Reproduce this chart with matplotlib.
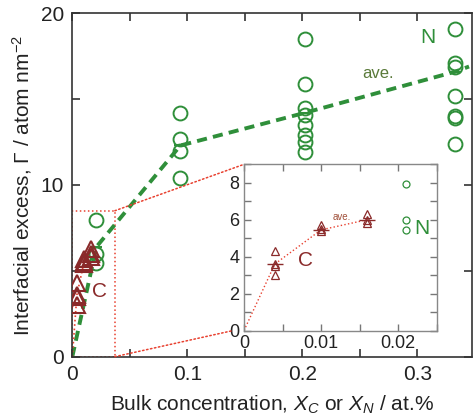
import matplotlib
matplotlib.use('Agg')
import matplotlib.pyplot as plt
from matplotlib.patches import Rectangle, ConnectionPatch
from matplotlib.ticker import MultipleLocator
import numpy as np

plt.rcParams['font.family'] = ['Liberation Sans', 'DejaVu Sans']
plt.rcParams['mathtext.fontset'] = 'custom'
plt.rcParams['mathtext.rm'] = 'Liberation Sans'
plt.rcParams['mathtext.it'] = 'Liberation Sans:italic'

# N data (circles)
n_x = [0.021, 0.021, 0.021,
       0.094, 0.094, 0.094, 0.094,
       0.202, 0.202, 0.202, 0.202, 0.202, 0.202, 0.202, 0.202,
       0.333, 0.333, 0.333, 0.333, 0.333, 0.333, 0.333]
n_y = [7.95, 6.0, 5.45,
       14.2, 12.7, 12.0, 10.4,
       18.5, 15.9, 14.5, 14.1, 13.5, 12.9, 12.5, 11.9,
       19.1, 17.1, 16.9, 15.2, 14.0, 13.9, 12.4]
n_ave_x = [0, 0.021, 0.094, 0.202, 0.333, 0.345]
n_ave_y = [0, 6.4, 12.3, 14.2, 16.6, 16.9]

# C data (triangles)
c_x = [0.004, 0.004, 0.004, 0.004, 0.010, 0.010, 0.010, 0.016, 0.016, 0.016]
c_y = [4.3, 3.6, 3.5, 3.0, 5.7, 5.5, 5.4, 6.3, 6.0, 5.8]
c_ave_x = [0, 0.004, 0.010, 0.016]
c_ave_y = [0, 3.6, 5.45, 6.0]

green = '#2f8f3a'
dred = '#8a2a2a'
red = '#e8402f'

fig = plt.figure(figsize=(4.73, 4.18), dpi=100)
ax = fig.add_axes([0.1529, 0.1467, 0.846, 0.8215])

ax.plot(n_ave_x, n_ave_y, '--', color=green, lw=2.8, dashes=(2.6, 1.6), zorder=2)
ax.plot(n_ave_x[1:5], n_ave_y[1:5], '_', color=green, ms=8, mew=1.5, zorder=2)
ax.plot(n_x, n_y, 'o', mfc='none', mec=green, ms=10, mew=1.4, zorder=3)
ax.plot(c_ave_x, c_ave_y, ':', color=red, lw=1.2, zorder=2)
ax.plot(c_x, c_y, '^', mfc='none', mec=dred, ms=11, mew=1.5, zorder=4)

ax.set_xlim(0, 0.348)
ax.set_ylim(0, 20)
ax.xaxis.set_minor_locator(MultipleLocator(0.05))
ax.yaxis.set_major_locator(MultipleLocator(10))
ax.yaxis.set_minor_locator(MultipleLocator(5))
ax.set_xticks([0, 0.1, 0.2, 0.3])
ax.set_xticklabels(['0', '0.1', '0.2', '0.3'])
ax.tick_params(which='both', direction='in', top=True, right=True,
               labelsize=15, color='#333333', labelcolor='#222222',
               length=6, width=1.2)
ax.tick_params(which='major', pad=6)
for s in ax.spines.values():
    s.set_color('#333333')
    s.set_linewidth(1.2)

ax.set_xlabel('Bulk concentration, $\\mathit{X_C}$ or $\\mathit{X_N}$ / at.%',
              fontsize=15, color='#222222', labelpad=7)
ax.set_ylabel('Interfacial excess, $\\mathit{\\Gamma}$ / atom nm$^{-2}$',
              fontsize=15, color='#222222', labelpad=5)

ax.text(0.309, 18.6, 'N', color=green, fontsize=15, ha='center', va='center')
ax.text(0.0235, 3.8, 'C', color=dred, fontsize=15, ha='center', va='center')
ax.text(0.266, 16.5, 'ave.', color='#5a7a3a', fontsize=12, ha='center', va='center')

# zoom box
bx, by = 0.037, 8.5
ax.add_patch(Rectangle((0, 0), bx, by, fill=False, ls=':', ec=red, lw=1.1, zorder=1))

# inset
ins = fig.add_axes([0.5159, 0.2093, 0.4087, 0.3976])
ins.plot(c_ave_x, c_ave_y, ':', color=red, lw=1.0)
ins.plot(c_ave_x[1:], c_ave_y[1:], '_', color=dred, ms=12, mew=1.0)
ins.plot(c_x, c_y, '^', mfc='none', mec=dred, ms=5.5, mew=0.9)
ins.plot(n_x[:3], n_y[:3], 'o', mfc='none', mec=green, ms=5, mew=0.9)
ins.set_xlim(0, 0.0251)
ins.set_ylim(0, 9)
ins.xaxis.set_minor_locator(MultipleLocator(0.005))
ins.yaxis.set_major_locator(MultipleLocator(2))
ins.yaxis.set_minor_locator(MultipleLocator(1))
ins.set_xticks([0, 0.01, 0.02])
ins.set_xticklabels(['0', '0.01', '0.02'])
ins.tick_params(which='both', direction='in', top=True, right=True,
                labelsize=13, color='#777777', labelcolor='#222222',
                length=5, width=1.0)
for s in ins.spines.values():
    s.set_color('#888888')
    s.set_linewidth(1.0)
ins.text(0.0231, 5.5, 'N', color=green, fontsize=15, ha='center', va='center')
ins.text(0.0080, 3.8, 'C', color=dred, fontsize=15, ha='center', va='center')
ins.text(0.0127, 6.15, 'ave.', color='#a0503a', fontsize=7, ha='center', va='center')

for xyA, xyB, cb in [((bx, by), (0, 1), ins.transAxes),
                     ((bx, 0), (-0.0014, 0), ins.transData)]:
    con = ConnectionPatch(xyA=xyA, coordsA=ax.transData, xyB=xyB, coordsB=cb,
                          ls=':', color=red, lw=1.1)
    fig.add_artist(con)

fig.savefig('out.png', dpi=100)
